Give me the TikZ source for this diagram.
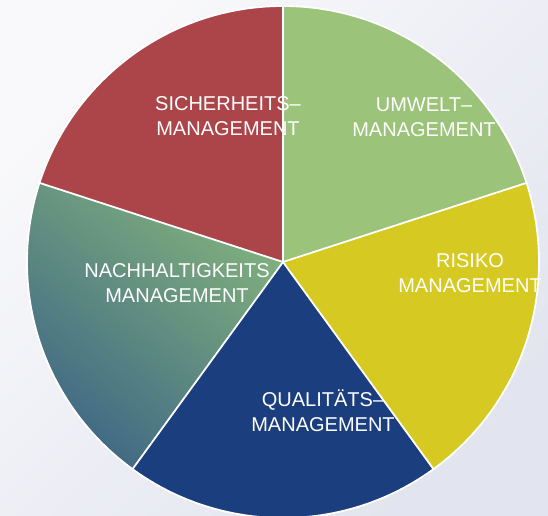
\documentclass[tikz,border=0pt]{standalone}
\usepackage{fontspec}
\setmainfont{Liberation Sans}
\begin{document}
\begin{tikzpicture}[x=1pt,y=1pt,
  slice/.style={draw=white, line width=1.8pt, line join=round},
  lbl/.style={text=white, align=center, inner sep=0pt,
    font=\fontsize{20}{25}\selectfont}]
\definecolor{redslice}{HTML}{AB4549}
\definecolor{greenslice}{HTML}{9BC47A}
\definecolor{yellowslice}{HTML}{D6CA22}
\definecolor{blueslice}{HTML}{1B3F7E}
\definecolor{tealtop}{HTML}{80B07D}
\definecolor{tealbot}{HTML}{3D6585}
\definecolor{bglight}{HTML}{F9F9FB}
\definecolor{bgdark}{HTML}{E2E4EF}
% background
\useasboundingbox (0,0) rectangle (548,515);
\shade[top color=bglight, bottom color=bgdark, shading angle=45]
  (0,0) rectangle (548,515);
\begin{scope}
\clip (0,0) rectangle (548,515);
\coordinate (c) at (283,253);
\def\rad{256}
% five equal slices
\fill[greenslice]  (c) -- ++(90:\rad)  arc[start angle=90,  end angle=18,   radius=\rad] -- cycle;
\fill[yellowslice] (c) -- ++(18:\rad)  arc[start angle=18,  end angle=-54,  radius=\rad] -- cycle;
\fill[blueslice]   (c) -- ++(-54:\rad) arc[start angle=-54, end angle=-126, radius=\rad] -- cycle;
\shade[top color=tealtop, bottom color=tealbot, shading angle=-40]
  (c) -- ++(234:\rad) arc[start angle=234, end angle=162, radius=\rad] -- cycle;
\fill[redslice]    (c) -- ++(162:\rad) arc[start angle=162, end angle=90,  radius=\rad] -- cycle;
% white separators and rim
\foreach \a in {90,18,-54,-126,162}
  \draw[slice] (c) -- ++(\a:\rad);
\draw[slice] (c) circle[radius=\rad];
\end{scope}
% labels
\node[lbl] (sich) at (228,398.5) {SICHERHEITS–\\MANAGEMENT};
\node[lbl] (umw)  at (424,398)   {UMWELT–\\MANAGEMENT};
\node[lbl] (nach) at (177,231.5) {NACHHALTIGKEITS\\MANAGEMENT};
\node[lbl] (risk) at (470,241.5) {RISIKO\\MANAGEMENT};
\node[lbl] (qual) at (323,104)   {QUALITÄTS–\\MANAGEMENT};
\end{tikzpicture}
\end{document}
